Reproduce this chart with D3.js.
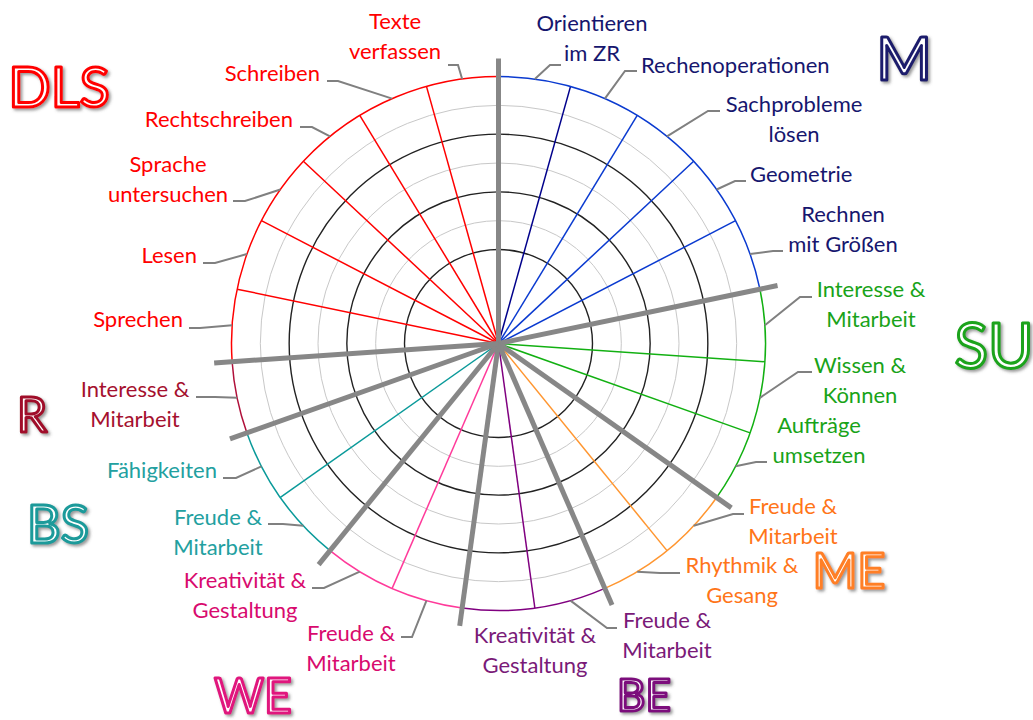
<!DOCTYPE html>
<html>
<head>
<meta charset="utf-8">
<script src="https://cdn.jsdelivr.net/npm/d3@7"></script>
<style>
  body { margin: 0; background: #fff; }
  svg { display: block; }
  text { font-family: Lato, "Open Sans", sans-serif; }
</style>
</head>
<body>
<svg id="chart" width="1033" height="720"></svg>
<script>
// subjects, clockwise from the top
var subjects = ["M", "SU", "ME", "BE", "WE", "BS", "R", "DLS"];
var itemCounts = [5, 3, 2, 2, 2, 2, 1, 6];

var itemLabels = [
    ["Orientieren", "im ZR"], ["Rechenoperationen"], ["Sachprobleme", "lösen"], ["Geometrie"], ["Rechnen", "mit Größen"],
    ["Interesse &", "Mitarbeit"], ["Wissen &", "Können"], ["Aufträge", "umsetzen"],
    ["Freude &", "Mitarbeit"], ["Rhythmik &", "Gesang"],
    ["Freude &", "Mitarbeit"], ["Kreativität &", "Gestaltung"],
    ["Freude &", "Mitarbeit"], ["Kreativität &", "Gestaltung"],
    ["Freude &", "Mitarbeit"], ["Fähigkeiten"],
    ["Interesse &", "Mitarbeit"],
    ["Sprechen"], ["Lesen"], ["Sprache", "untersuchen"], ["Rechtschreiben"], ["Schreiben"], ["Texte", "verfassen"]
];

// ring levels of the grid
var ringLevels = [0, 1, 2, 3, 4, 5, 6];

// colours
var arcColors = ["#0a3ad0", "#12b012", "#ff9630", "#800080", "#ff3a9a", "#0a9a9a", "#b0103a", "#ff0000"];
var spokeColors = [["#00008b", "#0a3ad0", "#0a3ad0", "#0a3ad0"], ["#12b012"], ["#ff9630"], ["#800080"],
    ["#ff3a9a"], ["#0a9a9a"], [], ["#ff0000"]];
var textColors = ["#16166e", "#19a319", "#ff7518", "#7a1a78", "#d80a6e", "#22a0a0", "#a5102e", "#ff0000"];
var titleColors = ["#1c1c6c", "#1aa31a", "#ff7f27", "#7b0d7b", "#e0147d", "#1a9a9a", "#a0102a", "#ff0000"];

// label placement: elbow point, end of the short horizontal, text x, first baseline, anchor
var labelLayout = [
    {ex: 550, ey: 65, hx: 561, tx: 592, ty: 31, a: "middle"},
    {ex: 625, ey: 71, hx: 637, tx: 641, ty: 73, a: "start"},
    {ex: 708, ey: 111, hx: 720, tx: 794, ty: 112, a: "middle"},
    {ex: 735, ey: 181, hx: 746, tx: 750, ty: 182, a: "start"},
    {ex: 773, ey: 251, hx: 783, tx: 843, ty: 222, a: "middle"},
    {ex: 800, ey: 297, hx: 812, tx: 871, ty: 297, a: "middle"},
    {ex: 798, ey: 372, hx: 812, tx: 860, ty: 373, a: "middle"},
    {ex: 756, ey: 462, hx: 767, tx: 819, ty: 433, a: "middle"},
    {ex: 733, ey: 514, hx: 744, tx: 793, ty: 514, a: "middle"},
    {ex: 660, ey: 573, hx: 680, tx: 742, ty: 573, a: "middle"},
    {ex: 607, ey: 628, hx: 617, tx: 667, ty: 628, a: "middle"},
    {ex: null, tx: 535, ty: 643, a: "middle"},
    {ex: 412, ey: 637, hx: 401, tx: 351, ty: 641, a: "middle"},
    {ex: 324, ey: 588, hx: 312, tx: 245, ty: 588, a: "middle"},
    {ex: 283, ey: 524, hx: 268, tx: 218, ty: 525, a: "middle"},
    {ex: 236, ey: 478, hx: 223, tx: 217, ty: 478, a: "end"},
    {ex: 215, ey: 397, hx: 196, tx: 135, ty: 397, a: "middle"},
    {ex: 200, ey: 328, hx: 189, tx: 183, ty: 327, a: "end"},
    {ex: 215, ey: 263, hx: 203, tx: 197, ty: 263, a: "end"},
    {ex: 245, ey: 201, hx: 233, tx: 168, ty: 172, a: "middle"},
    {ex: 312, ey: 127, hx: 300, tx: 293, ty: 127, a: "end"},
    {ex: 338, ey: 81, hx: 327, tx: 320, ty: 81, a: "end"},
    {ex: 458, ey: 65, hx: 448, tx: 395, ty: 29, a: "middle"}
];

// subject titles: x centre, baseline, size
var titleLayout = [
    {x: 904, y: 80, s: 60}, {x: 994, y: 368, s: 62}, {x: 849, y: 588, s: 48}, {x: 644, y: 711, s: 44},
    {x: 253, y: 713, s: 48}, {x: 58, y: 543, s: 52}, {x: 32, y: 432, s: 48}, {x: 59, y: 107, s: 56}
];

var cx = 498.5, cy = 343.5;
var svg = d3.select("#chart");

var defs = svg.append("defs");
var f = defs.append("filter").attr("id", "shadow").attr("x", "-20%").attr("y", "-20%")
    .attr("width", "140%").attr("height", "140%");
f.append("feDropShadow").attr("dx", 2).attr("dy", 2).attr("stdDeviation", 1.5)
    .attr("flood-color", "#555").attr("flood-opacity", 0.6);

var nItems = d3.sum(itemCounts);
var angle = d3.scaleLinear().domain([0, nItems]).range([0, 2 * Math.PI]);
var radius = d3.scaleLinear().domain([0, 6]).range([94, 267]);

var g = svg.append("g").attr("transform", "translate(" + cx + "," + cy + ")");

function px(a, r) { return r * Math.sin(a); }
function py(a, r) { return -r * Math.cos(a); }

// grid rings
g.selectAll(".ring")
    .data(ringLevels.slice(0, 6))
    .enter().append("circle")
    .attr("class", "ring")
    .attr("r", function (d) { return radius(d); })
    .attr("fill", "none")
    .attr("stroke", function (d) { return d % 2 === 0 ? "#222" : "#c8c8c8"; })
    .attr("stroke-width", function (d) { return d % 2 === 0 ? 1.4 : 1; });

// start index of each subject
var starts = [];
var acc = 0;
itemCounts.forEach(function (c) { starts.push(acc); acc += c; });

// thin coloured spokes between items of the same subject
var spokes = [];
subjects.forEach(function (s, i) {
    for (var k = 1; k < itemCounts[i]; k++) {
        spokes.push({pos: starts[i] + k, color: spokeColors[i][Math.min(k - 1, spokeColors[i].length - 1)]});
    }
});

g.selectAll(".spoke")
    .data(spokes)
    .enter().append("line")
    .attr("class", "spoke")
    .attr("x1", 0).attr("y1", 0)
    .attr("x2", function (d) { return px(angle(d.pos), radius(6)); })
    .attr("y2", function (d) { return py(angle(d.pos), radius(6)); })
    .attr("stroke", function (d) { return d.color; })
    .attr("stroke-width", 1.5);

// outer arcs per subject
var arc = d3.arc().innerRadius(radius(6)).outerRadius(radius(6));
g.selectAll(".outer")
    .data(subjects)
    .enter().append("path")
    .attr("class", "outer")
    .attr("d", function (d, i) {
        return arc({startAngle: angle(starts[i]), endAngle: angle(starts[i] + itemCounts[i])});
    })
    .attr("fill", "none")
    .attr("stroke", function (d, i) { return arcColors[i]; })
    .attr("stroke-width", 1.5);

// thick gray subject borders
g.selectAll(".border")
    .data(starts)
    .enter().append("line")
    .attr("class", "border")
    .attr("x1", 0).attr("y1", 0)
    .attr("x2", function (d) { return px(angle(d), 285); })
    .attr("y2", function (d) { return py(angle(d), 285); })
    .attr("stroke", "#878787")
    .attr("stroke-width", 5);

// item labels
var items = [];
subjects.forEach(function (s, i) {
    for (var k = 0; k < itemCounts[i]; k++) {
        var idx = starts[i] + k;
        items.push({idx: idx, subj: i, lines: itemLabels[idx], lay: labelLayout[idx]});
    }
});

var lab = svg.append("g");

lab.selectAll(".conn")
    .data(items.filter(function (d) { return d.lay.ex !== null; }))
    .enter().append("polyline")
    .attr("class", "conn")
    .attr("points", function (d) {
        var a = angle(d.idx + 0.5);
        var x0 = cx + px(a, radius(6)), y0 = cy + py(a, radius(6));
        return [[x0, y0], [d.lay.ex, d.lay.ey], [d.lay.hx, d.lay.ey]].join(" ");
    })
    .attr("fill", "none")
    .attr("stroke", "#808080")
    .attr("stroke-width", 2);

var txt = lab.selectAll(".itemlabel")
    .data(items)
    .enter().append("text")
    .attr("class", "itemlabel")
    .attr("text-anchor", function (d) { return d.lay.a; })
    .attr("fill", function (d) { return textColors[d.subj]; })
    .style("font-size", "22px");

txt.selectAll("tspan")
    .data(function (d) { return d.lines.map(function (l, j) { return {t: l, x: d.lay.tx, y: d.lay.ty + j * 29.5}; }); })
    .enter().append("tspan")
    .attr("x", function (d) { return d.x; })
    .attr("y", function (d) { return d.y; })
    .text(function (d) { return d.t; });

// subject titles
svg.append("g").selectAll(".title")
    .data(subjects)
    .enter().append("text")
    .attr("class", "title")
    .attr("x", function (d, i) { return titleLayout[i].x; })
    .attr("y", function (d, i) { return titleLayout[i].y; })
    .attr("text-anchor", "middle")
    .style("font-size", function (d, i) { return titleLayout[i].s + "px"; })
    .attr("fill", "#fff")
    .attr("stroke", function (d, i) { return titleColors[i]; })
    .attr("stroke-width", 3)
    .attr("stroke-linejoin", "round")
    .attr("filter", "url(#shadow)")
    .text(function (d) { return d; });
</script>
</body>
</html>
